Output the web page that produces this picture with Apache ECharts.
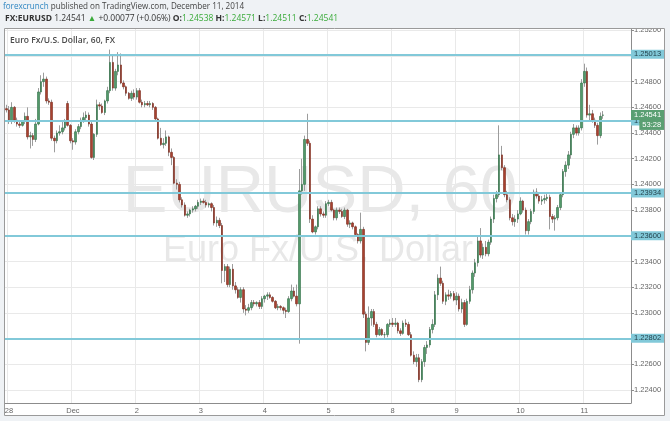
<!DOCTYPE html>
<html><head><meta charset="utf-8">
<script src="https://cdn.jsdelivr.net/npm/echarts@6/dist/echarts.min.js"></script>
<style>html,body{margin:0;padding:0;background:#fff}#c{width:670px;height:421px}</style>
</head><body><div id="c"></div>
<script>
// ---- day labels on the time axis (hourly bars) ----
const dayNames  = ['Nov 28','Dec 1','Dec 2','Dec 3','Dec 4','Dec 5','Dec 8','Dec 9','Dec 10','Dec 11'];
const dayLabels = ['28','Dec','2','3','4','5','8','9','10','11'];
const barsPerDay = 24;
const totalBars = 235;

// ---- hourly OHLC (EUR/USD, 60 min) ----
const opens = [
1.2459,1.2458,1.2449,1.2460,1.2450,1.2447,1.2446,1.2449,1.2453,1.2437,1.2438,1.2435,1.2447,1.2472,1.2480,1.2482,1.2465,1.2464,1.2436,1.2434,1.2440,1.2441,1.2444,1.2463,1.2446,
1.2434,1.2433,1.2441,1.2445,1.2450,1.2452,1.2454,1.2447,1.2421,1.2439,1.2462,1.2461,1.2456,1.2465,1.2473,1.2495,1.2475,1.2488,1.2493,1.2479,1.2476,1.2471,1.2467,1.2471,
1.2468,1.2473,1.2464,1.2462,1.2463,1.2462,1.2463,1.2460,1.2451,1.2436,1.2431,1.2432,1.2437,1.2425,1.2421,1.2401,1.2400,1.2388,1.2384,1.2376,1.2377,1.2380,1.2381,1.2383,
1.2386,1.2387,1.2386,1.2384,1.2385,1.2382,1.2370,1.2372,1.2368,1.2333,1.2336,1.2322,1.2334,1.2321,1.2318,1.2312,1.2318,1.2303,1.2302,1.2304,1.2308,1.2307,1.2308,1.2305,
1.2311,1.2313,1.2314,1.2312,1.2309,1.2304,1.2305,1.2304,1.2302,1.2301,1.2311,1.2317,1.2313,1.2307,1.2395,1.2400,1.2435,1.2432,1.2373,1.2363,1.2367,1.2381,1.2377,1.2376,
1.2385,1.2386,1.2380,1.2374,1.2380,1.2379,1.2375,1.2380,1.2369,1.2370,1.2367,1.2361,1.2356,1.2365,1.2299,1.2277,1.2296,1.2301,1.2291,1.2283,1.2287,1.2283,1.2283,1.2291,
1.2292,1.2291,1.2292,1.2286,1.2284,1.2292,1.2291,1.2283,1.2267,1.2262,1.2265,1.2248,1.2262,1.2273,1.2275,1.2287,1.2291,1.2314,1.2327,1.2323,1.2309,1.2314,1.2313,1.2315,
1.2310,1.2313,1.2303,1.2308,1.2291,1.2309,1.2318,1.2331,1.2339,1.2356,1.2345,1.2351,1.2346,1.2355,1.2373,1.2389,1.2392,1.2423,1.2413,1.2392,1.2388,1.2374,1.2371,1.2373,
1.2377,1.2387,1.2380,1.2364,1.2371,1.2379,1.2394,1.2391,1.2387,1.2388,1.2389,1.2390,1.2375,1.2373,1.2374,1.2382,1.2392,1.2410,1.2415,1.2423,1.2439,1.2444,1.2440,1.2444,
1.2479,1.2488,1.2454,1.2455,1.2450,1.2446,1.2438,1.24538
];
const highs = [
1.2462,1.2461,1.2464,1.2461,1.2452,1.2449,1.2450,1.2456,1.2460,1.2441,1.2440,1.2451,1.2475,1.2485,1.2487,1.2484,1.2467,1.2466,1.2438,1.2442,1.2446,1.2449,1.2451,1.2465,1.2447,
1.2436,1.2443,1.2447,1.2452,1.2456,1.2457,1.2456,1.2450,1.2440,1.2466,1.2464,1.2463,1.2466,1.2476,1.2505,1.2501,1.2490,1.2503,1.2502,1.2481,1.2477,1.2472,1.2473,1.2474,
1.2475,1.2475,1.2466,1.2465,1.2465,1.2465,1.2464,1.2461,1.2452,1.2444,1.2436,1.2442,1.2438,1.2428,1.2422,1.2404,1.2402,1.2390,1.2386,1.2379,1.2381,1.2383,1.2384,1.2388,
1.2389,1.2389,1.2388,1.2386,1.2386,1.2384,1.2375,1.2374,1.2370,1.2338,1.2338,1.2336,1.2338,1.2324,1.2320,1.2320,1.2320,1.2306,1.2307,1.2310,1.2310,1.2309,1.2310,1.2313,
1.2314,1.2316,1.2316,1.2313,1.2310,1.2307,1.2306,1.2305,1.2304,1.2313,1.2322,1.2320,1.2322,1.2412,1.2420,1.2438,1.2455,1.2434,1.2376,1.2368,1.2383,1.2383,1.2379,1.2387,
1.2388,1.2388,1.2381,1.2382,1.2382,1.2381,1.2382,1.2381,1.2372,1.2371,1.2368,1.2362,1.2378,1.2367,1.2301,1.2305,1.2303,1.2303,1.2293,1.2289,1.2288,1.2285,1.2292,1.2295,
1.2296,1.2296,1.2293,1.2288,1.2294,1.2295,1.2293,1.2285,1.2270,1.2268,1.2268,1.2264,1.2275,1.2278,1.2289,1.2295,1.2317,1.2330,1.2336,1.2325,1.2316,1.2318,1.2317,1.2317,
1.2316,1.2315,1.2311,1.2310,1.2311,1.2321,1.2333,1.2342,1.2360,1.2366,1.2354,1.2356,1.2357,1.2375,1.2392,1.2395,1.2446,1.2430,1.2415,1.2395,1.2390,1.2377,1.2376,1.2380,
1.2390,1.2388,1.2382,1.2373,1.2381,1.2396,1.2397,1.2393,1.2391,1.2392,1.2394,1.2392,1.2377,1.2376,1.2384,1.2394,1.2412,1.2418,1.2426,1.2441,1.2447,1.2446,1.2446,1.2482,
1.2494,1.2491,1.2462,1.2458,1.2452,1.2448,1.2456,1.24571
];
const lows = [
1.2456,1.2447,1.2447,1.2448,1.2445,1.2444,1.2445,1.2447,1.2435,1.2428,1.2430,1.2433,1.2446,1.2470,1.2476,1.2463,1.2462,1.2434,1.2425,1.2432,1.2438,1.2439,1.2442,1.2445,1.2432,
1.2427,1.2431,1.2439,1.2443,1.2448,1.2450,1.2445,1.2420,1.2419,1.2437,1.2458,1.2455,1.2454,1.2463,1.2471,1.2473,1.2473,1.2485,1.2478,1.2474,1.2469,1.2466,1.2465,1.2466,
1.2466,1.2463,1.2460,1.2460,1.2461,1.2460,1.2458,1.2450,1.2435,1.2430,1.2428,1.2430,1.2422,1.2415,1.2400,1.2396,1.2386,1.2382,1.2375,1.2374,1.2375,1.2378,1.2379,1.2381,
1.2384,1.2385,1.2382,1.2382,1.2379,1.2368,1.2367,1.2366,1.2323,1.2324,1.2320,1.2320,1.2318,1.2315,1.2311,1.2308,1.2300,1.2298,1.2300,1.2302,1.2305,1.2305,1.2303,1.2303,
1.2308,1.2310,1.2311,1.2308,1.2303,1.2302,1.2302,1.2299,1.2296,1.2300,1.2309,1.2312,1.2305,1.2276,1.2392,1.2395,1.2430,1.2370,1.2362,1.2361,1.2365,1.2375,1.2374,1.2374,
1.2383,1.2379,1.2372,1.2372,1.2377,1.2374,1.2373,1.2367,1.2366,1.2365,1.2359,1.2354,1.2354,1.2296,1.2270,1.2275,1.2290,1.2289,1.2281,1.2282,1.2282,1.2279,1.2281,1.2289,
1.2289,1.2289,1.2284,1.2282,1.2283,1.2289,1.2282,1.2266,1.2260,1.2258,1.2246,1.2246,1.2258,1.2268,1.2273,1.2284,1.2289,1.2310,1.2321,1.2307,1.2306,1.2310,1.2311,1.2309,
1.2306,1.2301,1.2300,1.2289,1.2290,1.2307,1.2315,1.2328,1.2336,1.2343,1.2342,1.2344,1.2344,1.2353,1.2370,1.2386,1.2390,1.2411,1.2390,1.2386,1.2372,1.2368,1.2367,1.2370,
1.2376,1.2378,1.2361,1.2361,1.2369,1.2377,1.2389,1.2385,1.2384,1.2385,1.2387,1.2365,1.2370,1.2364,1.2372,1.2380,1.2390,1.2406,1.2412,1.2420,1.2436,1.2438,1.2438,1.2442,
1.2476,1.2452,1.2450,1.2448,1.2444,1.2431,1.2436,1.24511
];
const closes = [
1.2458,1.2449,1.2460,1.2450,1.2447,1.2446,1.2449,1.2453,1.2437,1.2438,1.2435,1.2447,1.2472,1.2480,1.2482,1.2465,1.2464,1.2436,1.2434,1.2440,1.2441,1.2444,1.2449,1.2446,1.2434,
1.2433,1.2441,1.2445,1.2450,1.2452,1.2454,1.2447,1.2421,1.2439,1.2462,1.2461,1.2456,1.2465,1.2473,1.2495,1.2475,1.2488,1.2493,1.2479,1.2476,1.2471,1.2467,1.2471,1.2468,
1.2473,1.2464,1.2462,1.2463,1.2462,1.2463,1.2460,1.2451,1.2436,1.2431,1.2432,1.2437,1.2425,1.2421,1.2401,1.2400,1.2388,1.2384,1.2376,1.2377,1.2380,1.2381,1.2383,1.2386,
1.2387,1.2386,1.2384,1.2385,1.2382,1.2370,1.2372,1.2368,1.2333,1.2336,1.2322,1.2334,1.2321,1.2318,1.2312,1.2318,1.2303,1.2302,1.2304,1.2308,1.2307,1.2308,1.2305,1.2311,
1.2313,1.2314,1.2312,1.2309,1.2304,1.2305,1.2304,1.2302,1.2301,1.2311,1.2317,1.2313,1.2307,1.2395,1.2400,1.2435,1.2432,1.2373,1.2363,1.2367,1.2381,1.2377,1.2376,1.2385,
1.2386,1.2380,1.2374,1.2380,1.2379,1.2375,1.2380,1.2369,1.2370,1.2367,1.2361,1.2356,1.2365,1.2299,1.2277,1.2296,1.2301,1.2291,1.2283,1.2287,1.2283,1.2283,1.2291,1.2292,
1.2291,1.2292,1.2286,1.2284,1.2292,1.2291,1.2283,1.2267,1.2262,1.2265,1.2248,1.2262,1.2273,1.2275,1.2287,1.2291,1.2314,1.2327,1.2323,1.2309,1.2314,1.2313,1.2315,1.2310,
1.2313,1.2303,1.2308,1.2291,1.2309,1.2318,1.2331,1.2339,1.2356,1.2345,1.2351,1.2346,1.2355,1.2373,1.2389,1.2392,1.2423,1.2413,1.2392,1.2388,1.2374,1.2371,1.2373,1.2377,
1.2387,1.2380,1.2364,1.2371,1.2379,1.2394,1.2391,1.2387,1.2388,1.2389,1.2390,1.2375,1.2373,1.2374,1.2382,1.2392,1.2410,1.2415,1.2423,1.2439,1.2444,1.2440,1.2444,1.2479,
1.2488,1.2454,1.2455,1.2450,1.2446,1.2438,1.2453,1.24541
];

// ---- horizontal levels and price tags ----
const levels = [1.25013, 1.24494, 1.23934, 1.23600, 1.22802];
const lastPrice = 1.24541;
const countdown = '53:28';
const yTicks = {min: 1.224, max: 1.252, step: 0.002};

// ---- build categories ----
const categories = [];
for (let i = 0; i < totalBars; i++) {
  const d = Math.floor((i - 1) / barsPerDay);
  const h = ((i - 1) % barsPerDay + barsPerDay) % barsPerDay;
  categories.push((d < 0 ? 'Nov 27' : dayNames[d]) + ' ' + h + ':00');
}
const isDayStart = (i) => i >= 1 && (i - 1) % barsPerDay === 0;
const wickData = opens.map((o, i) => [o, closes[i], lows[i], highs[i]]);
const bodyData = opens.map((o, i) => [o, closes[i], Math.min(o, closes[i]), Math.max(o, closes[i])]);

const GREEN = '#53996a', GREEN_B = '#2f6e45', RED = '#a8412f', RED_B = '#7a2a1c';
const TAG = '#5a9f72';
const LEVEL = '#82c9d9';
const FONT = 'Liberation Sans, Arial, sans-serif';
const HFONT = 'Open Sans, sans-serif';

const chart = echarts.init(document.getElementById('c'), null, {renderer: 'canvas'});
chart.setOption({
  animation: false,
  backgroundColor: '#ffffff',
  grid: [
    {left: 5, right: 39, top: 28, bottom: 18},
    {left: 5, right: 39, top: 30.3, bottom: 31.1}
  ],
  xAxis: [
    {gridIndex: 0, type: 'category', data: categories, boundaryGap: true,
     axisLine: {lineStyle: {color: '#8c8c8c', width: 1}},
     axisTick: {show: false},
     axisLabel: {interval: (i) => isDayStart(i), formatter: (v, i) => dayLabels[Math.floor((i - 1) / barsPerDay)],
                 fontSize: 7.5, color: '#666', fontFamily: FONT, margin: 4},
     splitLine: {show: true, interval: (i) => isDayStart(i), lineStyle: {color: '#e9e9e9', width: 1}}},
    {gridIndex: 1, type: 'category', data: categories, boundaryGap: true, show: false}
  ],
  yAxis: [
    {gridIndex: 0, type: 'value', position: 'right', min: 0, max: 1,
     axisLine: {show: true, lineStyle: {color: '#8c8c8c'}}, axisTick: {show: false},
     axisLabel: {show: false}, splitLine: {show: false}},
    {gridIndex: 1, type: 'value', position: 'right', min: yTicks.min, max: yTicks.max, interval: yTicks.step,
     axisLine: {show: false},
     axisTick: {show: true, length: 3, lineStyle: {color: '#8c8c8c'}},
     axisLabel: {formatter: (v) => v.toFixed(5), fontSize: 7.5, color: '#666', fontFamily: FONT, margin: 3},
     splitLine: {show: true, lineStyle: {color: '#e9e9e9', width: 1}}}
  ],
  graphic: [
    {type: 'text', z: 1, x: 320, y: 194, style: {text: 'EURUSD, 60', font: '67px Liberation Sans, Arial, sans-serif', fill: '#e8e8e8', textAlign: 'center', textVerticalAlign: 'middle'}},
    {type: 'text', z: 1, x: 318, y: 251, style: {text: 'Euro Fx/U.S. Dollar', font: '36px Liberation Sans, Arial, sans-serif', fill: '#e8e8e8', textAlign: 'center', textVerticalAlign: 'middle'}},
    {type: 'text', z: 50, x: 10, y: 41, style: {text: 'Euro Fx/U.S. Dollar, 60, FX', font: '600 8.5px Open Sans, sans-serif', fill: '#4a4a4a', textVerticalAlign: 'middle'}},
    {type: 'rect', z: 100, shape: {x: 0, y: 0, width: 670, height: 28}, style: {fill: '#eff2f5'}},
    {type: 'rect', z: 100, shape: {x: 0, y: 28, width: 4, height: 393}, style: {fill: '#eff2f5'}},
    {type: 'rect', z: 100, shape: {x: 665, y: 28, width: 5, height: 393}, style: {fill: '#eff2f5'}},
    {type: 'rect', z: 100, shape: {x: 0, y: 416, width: 670, height: 5}, style: {fill: '#eff2f5'}},
    {type: 'rect', z: 101, shape: {x: 4.5, y: 28.5, width: 660, height: 387}, style: {fill: 'transparent', stroke: '#9a9a9a', lineWidth: 1}},
    {type: 'text', z: 102, x: 3, y: 7, style: {
      text: '{b|forexcrunch} {d|published on TradingView.com, December 11, 2014}',
      fontSize: 8.1, fontFamily: HFONT, textVerticalAlign: 'middle',
      rich: {b: {fill: '#2f86c2', fontSize: 8.1, fontFamily: HFONT},
             d: {fill: '#444', fontSize: 8.1, fontFamily: HFONT}}}},
    {type: 'text', z: 102, x: 5, y: 18.5, style: {
      text: '{k|FX:EURUSD} {n|1.24541} {g|▲} {n|+0.00077 (+0.06%)} {k|O:}{g|1.24538} {k|H:}{g|1.24571} {k|L:}{g|1.24511} {k|C:}{g|1.24541}',
      fontSize: 8.5, fontFamily: HFONT, textVerticalAlign: 'middle',
      rich: {k: {fill: '#333', fontSize: 8.5, fontFamily: HFONT, fontWeight: 'bold'},
             n: {fill: '#333', fontSize: 8.5, fontFamily: HFONT},
             g: {fill: '#3aab3a', fontSize: 8.5, fontFamily: HFONT}}}}
  ],
  series: [
    {type: 'candlestick', name: 'wick', xAxisIndex: 1, yAxisIndex: 1, data: wickData, barWidth: 1,
     itemStyle: {color: '#9c9c9c', color0: '#9c9c9c', borderColor: '#9c9c9c', borderColor0: '#9c9c9c', borderWidth: 1}, z: 2},
    {type: 'candlestick', name: 'body', xAxisIndex: 1, yAxisIndex: 1, data: bodyData, barWidth: 2,
     itemStyle: {color: GREEN, color0: RED, borderColor: GREEN_B, borderColor0: RED_B, borderWidth: 0.6}, z: 3},
    {type: 'line', name: 'levels', xAxisIndex: 1, yAxisIndex: 1, data: [], clip: false, z: 4,
     markLine: {
       silent: true, symbol: ['none', 'none'], animation: false, precision: 5,
       lineStyle: {color: LEVEL, width: 2, type: 'solid'},
       label: {position: 'end', distance: 0, formatter: (p) => Number(p.value).toFixed(5), backgroundColor: LEVEL,
               color: '#1f3d47', fontSize: 7.5, fontFamily: FONT, padding: [1, 3, 0, 3], lineHeight: 8},
       data: levels.map(v => ({yAxis: v})).concat([{
         yAxis: lastPrice, lineStyle: {color: 'rgba(0,0,0,0)', width: 0},
         label: {position: 'end', distance: 0, backgroundColor: 'rgba(0,0,0,0)', padding: 0, offset: [0, 5],
                 formatter: () => '{p|' + lastPrice.toFixed(5) + '}\n{t|' + countdown + '}',
                 rich: {p: {backgroundColor: TAG, color: '#fff', fontSize: 7.5, fontFamily: FONT, padding: [1, 3, 1, 3], lineHeight: 10},
                        t: {backgroundColor: TAG, color: '#fff', fontSize: 7.5, fontFamily: FONT, padding: [1, 3, 1, 3], lineHeight: 10, align: 'right'}}}
       }])
     }}
  ]
});
</script></body></html>
